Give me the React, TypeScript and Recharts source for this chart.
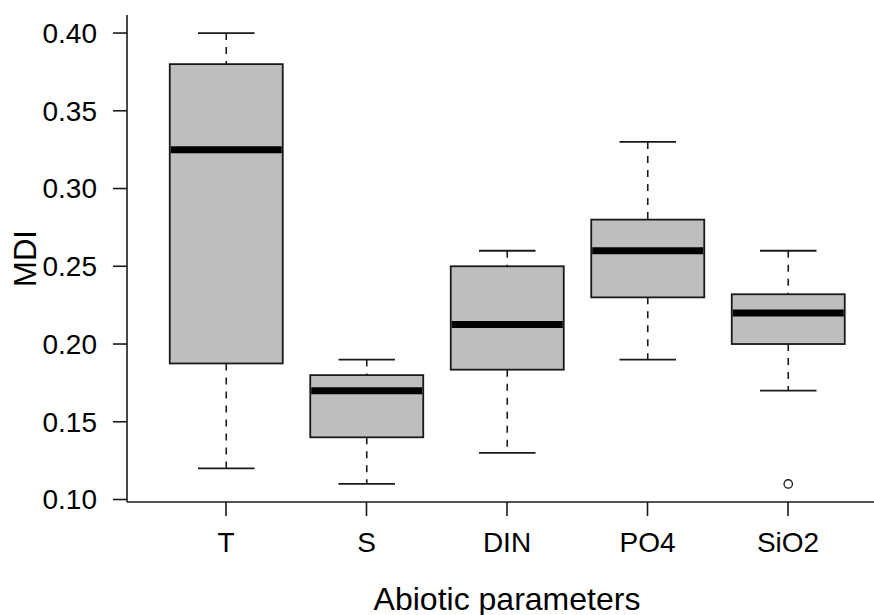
import React from 'react';
import { ComposedChart, Bar, XAxis, YAxis, Label } from 'recharts';

const categories = ['T', 'S', 'DIN', 'PO4', 'SiO2'];
const whiskerLow = [0.12, 0.11, 0.13, 0.19, 0.17];
const lowerQuartile = [0.1875, 0.14, 0.1835, 0.23, 0.2];
const medians = [0.325, 0.17, 0.2125, 0.26, 0.22];
const upperQuartile = [0.38, 0.18, 0.25, 0.28, 0.232];
const whiskerHigh = [0.4, 0.19, 0.26, 0.33, 0.26];
const outliers: number[][] = [[], [], [], [], [0.11]];
const yTicks = [0.1, 0.15, 0.2, 0.25, 0.3, 0.35, 0.4];
const yDomain = [0.0984, 0.4116];

const data = categories.map((name, i) => ({
  name,
  lo: whiskerLow[i],
  q1: lowerQuartile[i],
  med: medians[i],
  q3: upperQuartile[i],
  hi: whiskerHigh[i],
  out: outliers[i],
}));

const FONT = '"Liberation Sans", Arial, sans-serif';
const INK = '#1a1a1a';

const BoxShape = (props: any) => {
  const { x, y, width, height, payload } = props;
  const top = Math.min(y, y + height);
  const h = Math.abs(height);
  const k = h / (payload.q3 - payload.q1);
  const Y = (v: number) => top + (payload.q3 - v) * k;
  const cx = x + width / 2;
  const capHalf = width / 4;
  return (
    <g>
      <line x1={cx} x2={cx} y1={Y(payload.hi)} y2={top} stroke={INK} strokeWidth={1.6} strokeDasharray="7 7" />
      <line x1={cx} x2={cx} y1={top + h} y2={Y(payload.lo)} stroke={INK} strokeWidth={1.6} strokeDasharray="7 7" />
      <line x1={cx - capHalf} x2={cx + capHalf} y1={Y(payload.hi)} y2={Y(payload.hi)} stroke={INK} strokeWidth={1.8} />
      <line x1={cx - capHalf} x2={cx + capHalf} y1={Y(payload.lo)} y2={Y(payload.lo)} stroke={INK} strokeWidth={1.8} />
      <rect x={x} y={top} width={width} height={h} fill="#bebebe" stroke={INK} strokeWidth={1.8} />
      <line x1={x + 1} x2={x + width - 1} y1={Y(payload.med)} y2={Y(payload.med)} stroke="#000" strokeWidth={7} />
      {payload.out.map((v: number, j: number) => (
        <circle key={j} cx={cx} cy={Y(v)} r={4.2} fill="none" stroke={INK} strokeWidth={1.3} />
      ))}
    </g>
  );
};

const tickStyle = { fontFamily: FONT, fontSize: 28, fill: '#000' };

export default function App() {
  return (
    <div style={{ position: 'absolute', left: 0, top: 0 }}>
      <ComposedChart width={874} height={615} data={data} margin={{ top: 15, right: 0, bottom: 0, left: 0 }}>
        <XAxis
          dataKey="name"
          type="category"
          height={113}
          padding={{ left: 28.75, right: 15.75 }}
          tickSize={14}
          tickMargin={16}
          tick={tickStyle}
          stroke={INK}
          strokeWidth={1.6}
          interval={0}
        >
          <Label
            content={(p: any) => {
              const vb = p.viewBox;
              return (
                <text x={vb.x + vb.width / 2 + 6.5} y={610} textAnchor="middle" fontFamily={FONT} fontSize={32} fill="#000">
                  Abiotic parameters
                </text>
              );
            }}
          />
        </XAxis>
        <XAxis
          xAxisId="top"
          dataKey="name"
          type="category"
          orientation="top"
          height={0}
          padding={{ left: 28.75, right: 15.75 }}
          tick={false}
          tickLine={false}
          stroke={INK}
          strokeWidth={1.6}
        />
        <YAxis
          type="number"
          domain={yDomain}
          allowDataOverflow
          ticks={yTicks}
          width={127}
          tickSize={14}
          tickMargin={16}
          tick={tickStyle}
          tickFormatter={(v: number) => v.toFixed(2)}
          stroke={INK}
          strokeWidth={1.6}
          interval={0}
        >
          <Label
            content={(p: any) => {
              const vb = p.viewBox;
              const cy = vb.y + vb.height / 2;
              return (
                <text x={36} y={cy} transform={`rotate(-90, 36, ${cy})`} textAnchor="middle" fontFamily={FONT} fontSize={31} fill="#000">
                  MDI
                </text>
              );
            }}
          />
        </YAxis>
        <Bar dataKey={(d: any) => [d.q1, d.q3]} barSize={113} shape={BoxShape} isAnimationActive={false} />
      </ComposedChart>
    </div>
  );
}
